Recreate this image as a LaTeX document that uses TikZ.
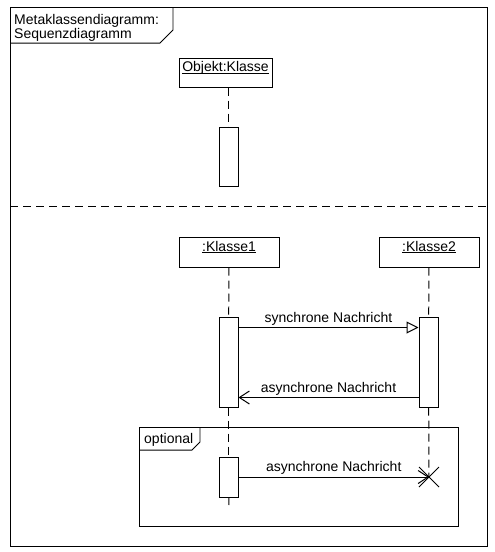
\documentclass[tikz,border=0pt]{standalone}
\usepackage{fontspec}
\setmainfont{Liberation Sans}
\usetikzlibrary{arrows.meta}
\newcommand{\uname}[1]{\underline{\smash{#1}}}
\tikzset{
  head/.style={draw, line width=0.035cm, minimum width=100pt, minimum height=30pt, inner sep=0pt},
  activation/.style={draw, fill=white, line width=0.035cm, minimum width=19pt, inner sep=0pt},
  lifeline/.style={line width=0.035cm, dash pattern=on 8pt off 5pt},
  syncmsg/.style={line width=0.035cm, -{Triangle[open,length=12pt,width=12pt]}},
  asyncmsg/.style={line width=0.035cm, -{Straight Barb[length=10pt,width=13pt]}},
  msglabel/.style={midway, above, inner sep=2pt},
}
\begin{document}
\begin{tikzpicture}[x=1pt,y=-1pt]
                \useasboundingbox (0,0) rectangle (495,552);
                {\fontsize{14}{11}\selectfont

                % Drawing outer frame
                \draw [line width=0.035cm] (10,7) rectangle (487,546);%

                % Marking frame label
                \node [anchor=base west, inner sep=0pt, align=left, font=\fontsize{14}{11.5}\selectfont] (framelabel) at (14,38.5) {Metaklassendiagramm:\\Sequenzdiagramm};%
                \draw [line width=0.035cm] (10,43) -- (160,43) -- (173,30) -- (173,7);%

                % Drawing separator
                \draw [line width=0.035cm, dash pattern=on 8pt off 5pt] (10,206) -- (487,206);%

                % Marking object head and its activation
                \node [head, minimum width=93pt, minimum height=29pt] (obj) at (225.5,72.5) {\uname{Objekt:Klasse}};%
                \node [activation, minimum height=59pt] (a0) at (228.5,156.5) {};%
                \draw [lifeline] (a0 |- obj.south) -- (a0.north);%

                % Marking heads Klasse1 Klasse2
                \node [head] (k1) at (229,252) {\uname{:Klasse1}};%
                \node [head] (k2) at (429,252) {\uname{:Klasse2}};%

                % Marking activations
                \node [activation, minimum height=90pt] (act1) at (228.5,362) {};%
                \node [activation, minimum height=90pt] (act2) at (428.5,362) {};%
                \node [activation, minimum height=40pt] (act3) at (228.5,477) {};%
                \coordinate (dx) at (429,477);%
                \coordinate (end1) at (229,505);%

                % Drawing lifelines
                \draw [lifeline] (k1) -- (act1);%
                \draw [lifeline] (act1) -- (act3);%
                \draw [lifeline] (act3) -- (end1);%
                \draw [lifeline] (k2) -- (act2);%
                \draw [lifeline] (act2) -- (dx);%

                % Drawing messages
                \draw [syncmsg] ([yshift=-11pt]act1.north east) -- node [msglabel] (m1) {synchrone Nachricht} ([yshift=-11pt]act2.north west);%
                \draw [asyncmsg] ([yshift=10pt]act2.south west) -- node [msglabel] (m2) {asynchrone Nachricht} ([yshift=10pt]act1.south east);%
                \draw [asyncmsg] (act3.east) -- node [msglabel] (m3) {asynchrone Nachricht} (dx);%

                % Marking destruction of Klasse2
                \draw [line width=0.035cm] (dx) ++(-10,-10) -- ++(20,20);%
                \draw [line width=0.035cm] (dx) ++(-10,10) -- ++(20,-20);%

                % Drawing optional fragment
                \draw [line width=0.035cm] (139,427) rectangle (458,526);%
                \node [anchor=base west, inner sep=0pt] (optlabel) at (144,443) {optional};%
                \draw [line width=0.035cm] (139,450) -- (192,450) -- (200,442) -- (200,427);%
                }
            \end{tikzpicture}
\end{document}
